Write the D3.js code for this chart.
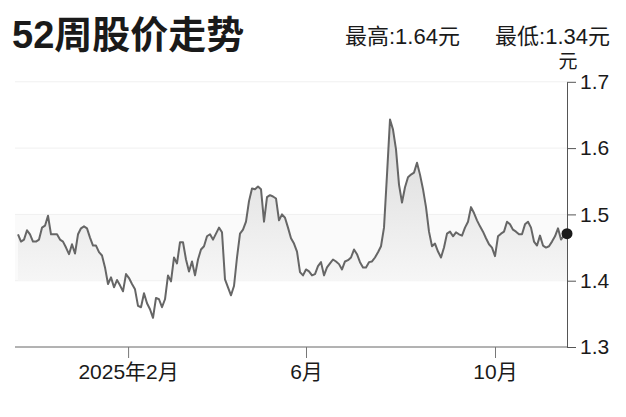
<!DOCTYPE html>
<html><head><meta charset="utf-8">
<script src="https://cdn.jsdelivr.net/npm/d3@7/dist/d3.min.js"></script>
<style>
html,body{margin:0;padding:0;background:#fff;}
svg{display:block;}
text{font-family:"Liberation Sans","Noto Sans CJK SC",sans-serif;fill:#1a1a1a;}
</style></head>
<body>
<svg id="chart" width="626" height="417"></svg>
<script>
// ---- data ----
const titleText = "52周股价走势";
const highLabel = "最高:1.64元";
const lowLabel = "最低:1.34元";
const unitLabel = "元";
const prices = [
1.470,1.459,1.462,1.476,1.470,1.459,1.459,1.462,1.480,1.483,
1.498,1.470,1.470,1.470,1.462,1.459,1.450,1.440,1.455,1.441,
1.470,1.479,1.482,1.479,1.465,1.453,1.453,1.443,1.438,1.420,
1.395,1.405,1.390,1.401,1.393,1.384,1.410,1.404,1.395,1.387,
1.362,1.360,1.381,1.366,1.357,1.344,1.374,1.372,1.360,1.372,
1.408,1.399,1.435,1.426,1.458,1.458,1.432,1.414,1.429,1.408,
1.432,1.447,1.452,1.467,1.470,1.462,1.471,1.480,1.473,1.402,
1.390,1.378,1.392,1.435,1.471,1.477,1.489,1.520,1.539,1.538,
1.542,1.538,1.489,1.526,1.529,1.527,1.524,1.491,1.500,1.495,
1.480,1.464,1.456,1.444,1.413,1.408,1.417,1.414,1.408,1.410,
1.422,1.428,1.408,1.420,1.426,1.432,1.429,1.425,1.417,1.429,
1.431,1.435,1.447,1.440,1.428,1.420,1.420,1.428,1.429,1.435,
1.443,1.452,1.480,1.560,1.643,1.628,1.598,1.545,1.518,1.541,
1.556,1.560,1.563,1.578,1.560,1.538,1.511,1.474,1.452,1.456,
1.444,1.435,1.450,1.471,1.474,1.467,1.473,1.470,1.468,1.480,
1.489,1.511,1.502,1.491,1.482,1.474,1.464,1.455,1.450,1.437,
1.467,1.471,1.474,1.489,1.485,1.477,1.474,1.470,1.470,1.485,
1.489,1.480,1.459,1.453,1.468,1.453,1.450,1.452,1.459,1.467,
1.479,1.462,1.468,1.471
];
const xTickIndex = [36.7, 96, 159];
const xTickLabels = ["2025年2月", "6月", "10月"];
const yTicks = [1.3, 1.4, 1.5, 1.6, 1.7];

// ---- chart ----
const svg = d3.select("#chart");
const plotLeft = 15, plotRight = 567, plotBottom = 347, plotTop = 81.8;
const x = d3.scaleLinear().domain([0, prices.length - 1]).range([18, plotRight]);
const y = d3.scaleLinear().domain([1.3, 1.7]).range([plotBottom, plotTop]);

const defs = svg.append("defs");
const grad = defs.append("linearGradient").attr("id", "areaGrad")
  .attr("gradientUnits", "userSpaceOnUse")
  .attr("x1", 0).attr("x2", 0).attr("y1", y(1.65)).attr("y2", y(1.4));
grad.append("stop").attr("offset", "0%").attr("stop-color", "#d9d9d9");
grad.append("stop").attr("offset", "100%").attr("stop-color", "#f6f6f6");

// faint band between 1.4 and 1.5
svg.append("rect").attr("x", plotLeft).attr("width", plotRight - plotLeft)
  .attr("y", y(1.5)).attr("height", y(1.4) - y(1.5)).attr("fill", "#fafafa");

// gridlines
svg.append("g").selectAll("line").data(yTicks.filter(d => d > 1.3)).join("line")
  .attr("x1", plotLeft).attr("x2", plotRight)
  .attr("y1", d => y(d)).attr("y2", d => y(d))
  .attr("stroke", "#f0f0f0").attr("stroke-width", 1);

// area
const area = d3.area()
  .x((d, i) => x(i))
  .y0(d => y(Math.min(d, 1.4)))
  .y1(d => y(d));
svg.append("path").datum(prices).attr("d", area).attr("fill", "url(#areaGrad)");

// line
const line = d3.line().x((d, i) => x(i)).y(d => y(d));
svg.append("path").datum(prices).attr("d", line)
  .attr("fill", "none").attr("stroke", "#666").attr("stroke-width", 2)
  .attr("stroke-linejoin", "round");

// x axis
svg.append("line").attr("x1", plotLeft).attr("x2", plotRight)
  .attr("y1", plotBottom).attr("y2", plotBottom).attr("stroke", "#666").attr("stroke-width", 1);
const xAxis = d3.axisBottom(x).tickValues(xTickIndex)
  .tickFormat((d, i) => xTickLabels[i]).tickSize(11).tickSizeOuter(0).tickPadding(6);
const gx = svg.append("g").attr("transform", `translate(0,${plotBottom})`).call(xAxis);
gx.select(".domain").remove();
gx.selectAll(".tick line").attr("stroke", "#777");
gx.selectAll(".tick text").attr("font-size", 21).attr("fill", "#1a1a1a")
  .style("font-family", '"Liberation Sans","Noto Sans CJK SC",sans-serif');

// y axis (right)
const yAxis = d3.axisRight(y).tickValues(yTicks).tickFormat(d3.format(".1f"))
  .tickSize(9).tickSizeOuter(0).tickPadding(4);
const gy = svg.append("g").attr("transform", `translate(${plotRight},0)`).call(yAxis);
gy.select(".domain").attr("stroke", "#555");
gy.selectAll(".tick line").attr("stroke", "#555");
gy.selectAll(".tick text").attr("font-size", 21).attr("fill", "#1a1a1a")
  .style("font-family", '"Liberation Sans","Noto Sans CJK SC",sans-serif');

// end dot
const last = prices.length - 1;
svg.append("circle").attr("cx", x(last)).attr("cy", y(prices[last])).attr("r", 5.5).attr("fill", "#1a1a1a");

// unit label
svg.append("text").attr("x", plotRight + 1).attr("y", 68).attr("text-anchor", "middle")
  .attr("font-size", 19).text(unitLabel);

// title
svg.append("text").attr("x", 12).attr("y", 48).attr("font-size", 38).attr("font-weight", "bold")
  .attr("fill", "#111").text(titleText);

// header high/low
svg.append("text").attr("x", 345).attr("y", 44).attr("font-size", 22).text(highLabel);
svg.append("text").attr("x", 610).attr("y", 44).attr("font-size", 22).attr("text-anchor", "end").text(lowLabel);
</script>
</body></html>
